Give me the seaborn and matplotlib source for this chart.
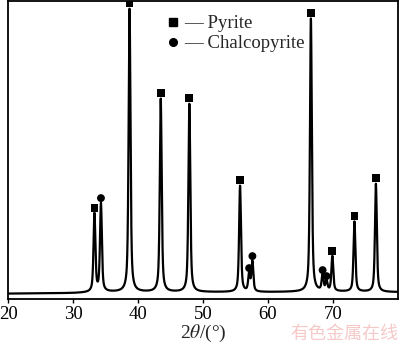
import numpy as np
import pandas as pd
import seaborn as sns
import matplotlib
matplotlib.use("Agg")
import matplotlib.pyplot as plt
from matplotlib.lines import Line2D

# ---- data ----
peak_pos = [33.3, 34.3, 38.7, 43.5, 47.9, 55.7, 57.1, 57.6, 66.6, 68.4, 69.0, 69.9, 73.3, 76.6]
peak_height = [78, 88, 283, 193, 188, 106, 18, 30, 273, 16, 10, 35, 70, 108]
peak_phase = ["Pyrite", "Chalcopyrite", "Pyrite", "Pyrite", "Pyrite", "Pyrite",
              "Chalcopyrite", "Chalcopyrite", "Pyrite", "Chalcopyrite", "Chalcopyrite",
              "Pyrite", "Pyrite", "Pyrite"]
baseline_x = [20, 30, 35, 45, 60, 70, 80]
baseline_y = [5.5, 6.0, 7.0, 7.0, 7.0, 7.5, 7.0]
x_ticks = [20, 30, 40, 50, 60, 70]
legend_labels = ["— Pyrite", "— Chalcopyrite"]

sns.set_theme(style="ticks")
plt.rcParams['font.family'] = ['Liberation Serif', 'DejaVu Serif']
plt.rcParams['mathtext.fontset'] = 'stix'

# build profile from the listed peaks
x = np.linspace(20, 80, 3001)
y = np.interp(x, baseline_x, baseline_y)
w = 0.17
for p, h in zip(peak_pos, peak_height):
    y = y + h * (0.6 / (1 + ((x - p) / w) ** 2) + 0.4 * np.exp(-np.log(2) * ((x - p) / w) ** 2))
df = pd.DataFrame({"x": x, "y": y})

fig = plt.figure(figsize=(4.0, 3.47), dpi=100)
ax = fig.add_axes([0.02, 0.138, 0.975, 0.859])
sns.lineplot(data=df, x="x", y="y", ax=ax, color="black", linewidth=1.6)

mk = pd.DataFrame({"x": peak_pos, "y": [h + 6 + 7 for h in peak_height], "phase": peak_phase})
sns.scatterplot(data=mk, x="x", y="y", style="phase", markers={"Pyrite": "s", "Chalcopyrite": "o"},
                color="black", s=32, edgecolor="none", ax=ax, legend=False)

ax.set_xlim(20, 80)
ax.set_ylim(0, 298)
ax.set_xticks(x_ticks)
ax.set_yticks([])
ax.tick_params(axis="x", direction="out", length=3, width=1, labelsize=13.5, pad=2, colors="black")
for s in ax.spines.values():
    s.set_linewidth(1.3)
    s.set_color("black")
ax.set_ylabel("")
ax.set_xlabel(r"2$\mathit{\theta}$/(°)", fontsize=14, labelpad=0)

handles = [Line2D([], [], marker="s", color="black", linestyle="none", markersize=5.5),
           Line2D([], [], marker="o", color="black", linestyle="none", markersize=5.5)]
ax.legend(handles, legend_labels, loc="upper left", bbox_to_anchor=(0.39, 0.978),
          frameon=False, handlelength=0.6, handletextpad=0.3, labelspacing=0.15,
          fontsize=13.5, borderaxespad=0)

fig.text(0.995, 0.012, "有色金属在线", color="#f6c9c9", fontsize=13,
         family=["Noto Sans CJK SC", "DejaVu Sans"], ha="right", va="bottom")

fig.savefig("out.png", dpi=100)
